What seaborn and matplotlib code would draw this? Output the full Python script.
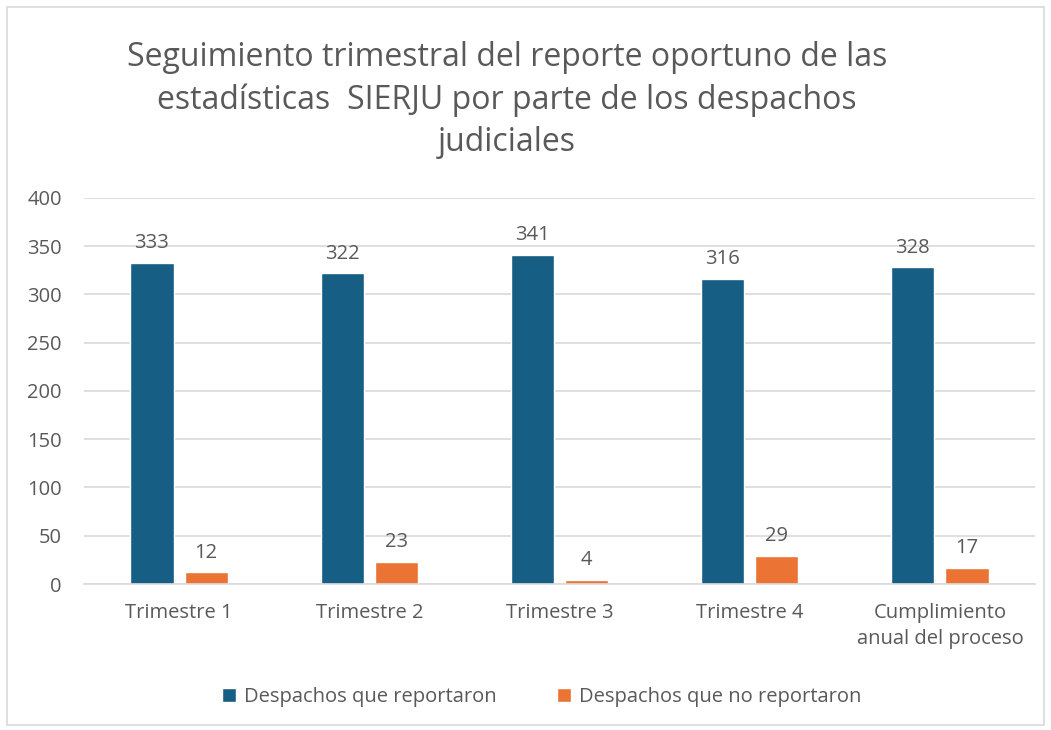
import pandas as pd
import seaborn as sns
import matplotlib.pyplot as plt
from matplotlib.patches import Rectangle

# datos
categorias = ["Trimestre 1", "Trimestre 2", "Trimestre 3", "Trimestre 4",
              "Cumplimiento\nanual del proceso"]
reportaron = [333, 322, 341, 316, 328]
no_reportaron = [12, 23, 4, 29, 17]
series = ["Despachos que reportaron", "Despachos que no reportaron"]
colores = ["#175E84", "#EB7333"]

df = pd.DataFrame({
    "categoria": categorias * 2,
    "serie": [series[0]] * len(categorias) + [series[1]] * len(categorias),
    "valor": reportaron + no_reportaron,
})

sns.set_style("white")
plt.rcParams['font.family'] = ['Open Sans', 'DejaVu Sans']
gris = "#595959"

fig = plt.figure(figsize=(10.51, 7.30), dpi=100)
ax = fig.add_axes([84 / 1051, 0.2, (1035 - 84) / 1051, 0.7288 - 0.2])

sns.barplot(data=df, x="categoria", y="valor", hue="serie", palette=colores,
            width=0.57, gap=0.2, ax=ax, legend=True, saturation=1)

for c in ax.containers:
    ax.bar_label(c, padding=7, fontsize=14.5, color=gris)

ax.set_ylim(0, 400)
ax.set_yticks(range(0, 401, 50))
ax.yaxis.grid(True, color="#D9D9D9", linewidth=1.2)
ax.set_axisbelow(True)
for s in ["top", "right", "left"]:
    ax.spines[s].set_visible(False)
ax.spines["bottom"].set_color("#D9D9D9")
ax.spines["bottom"].set_linewidth(1.2)
ax.tick_params(axis="both", length=0, labelsize=14.5, labelcolor=gris)
ax.tick_params(axis="x", pad=14)
ax.tick_params(axis="y", pad=16)
for t in ax.get_xticklabels():
    t.set_linespacing(1.35)
ax.set_xlabel("")
ax.set_ylabel("")

ax.legend(loc="center", bbox_to_anchor=(542 / 1051, 1 - 697 / 730), bbox_transform=fig.transFigure,
          ncol=2, frameon=False, fontsize=14.5, labelcolor=gris, handlelength=0.7,
          handleheight=0.7, handletextpad=0.4, columnspacing=3)

fig.text(507 / 1051, 1 - 100 / 730,
         "Seguimiento trimestral del reporte oportuno de las\nestadísticas  SIERJU por parte de los despachos\njudiciales",
         ha="center", va="center", fontsize=23, color=gris, linespacing=1.38)

fig.patches.append(Rectangle((7 / 1051, 5 / 730), 1037 / 1051, 718 / 730,
                             transform=fig.transFigure, fill=False,
                             edgecolor="#D9D9D9", linewidth=1.2))

fig.savefig("out.png", dpi=100)
